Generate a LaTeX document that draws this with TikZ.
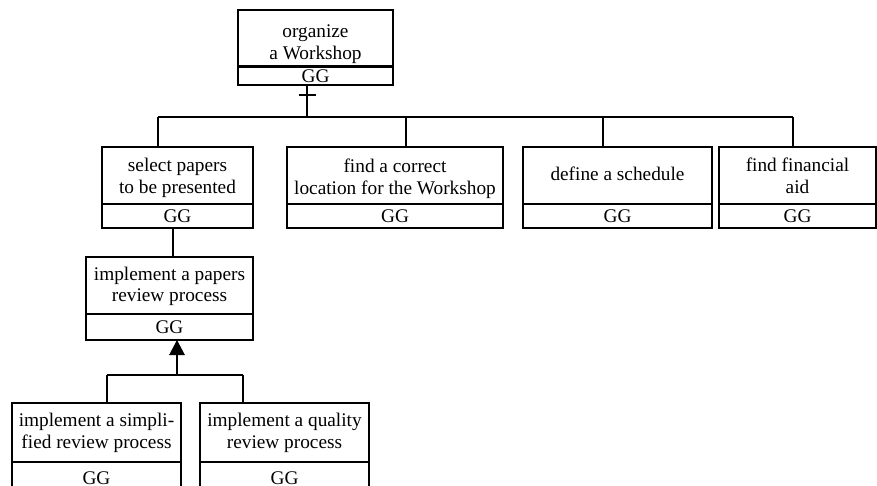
\documentclass[tikz,border=0pt]{standalone}
\usepackage{fontspec}
\setmainfont{Liberation Serif}
\usetikzlibrary{arrows.meta}
% stacked, centred lines whose baseline is the first line's baseline
\newcommand\goallines[1]{\begin{tabular}[t]{@{}c@{}}#1\end{tabular}}
\begin{document}
\begin{tikzpicture}[x=1pt,y=-1pt,line width=1.2pt,
  goalfont/.style={font=\fontsize{19.3}{21.7}\selectfont},
  goalbox/.style={draw,rectangle,anchor=north west,inner sep=0pt,outer sep=0pt},
  upper/.style={goalbox,minimum height=57pt},
  owner/.style={goalbox,goalfont,minimum height=24pt,text height=12.8pt,text depth=0pt},
  goaltext/.style={goalfont,anchor=base,inner sep=0pt,outer sep=0pt},
  link/.style={draw,line width=1.2pt},
  andlink/.style={link,-{Triangle[width=15.5pt,length=15pt]}}]
\useasboundingbox (0,0) rectangle (877,486);
\clip (0,0) rectangle (877,486);

% root goal
\node[upper,minimum width=155pt] (org) at (238,10) {};
\node[goaltext] (orgt) at ([yshift=-27.5pt]org.north) {\goallines{organize\\a Workshop}};
\node[owner,minimum width=155pt,minimum height=18pt] (orgg) at (org.south west) {GG};
\draw[line width=3pt] (org.south west) -- (org.south east);

% first-level subgoals
\node[upper,minimum width=151pt] (sel) at (102,147) {};
\node[goaltext] (selt) at ([yshift=-25pt]sel.north) {\goallines{select papers\\to be presented}};
\node[owner,minimum width=151pt] (selg) at (sel.south west) {GG};

\node[upper,minimum width=216pt] (loc) at (287,147) {};
\node[goaltext] (loct) at ([yshift=-25.5pt]loc.north) {\goallines{find a correct\\location for the Workshop}};
\node[owner,minimum width=216pt] (locg) at (loc.south west) {GG};

\node[upper,minimum width=189pt] (sch) at (523,147) {};
\node[goaltext] (scht) at ([yshift=-34pt]sch.north) {\goallines{define a schedule}};
\node[owner,minimum width=189pt] (schg) at (sch.south west) {GG};

\node[upper,minimum width=157pt] (aid) at (719,147) {};
\node[goaltext] (aidt) at ([yshift=-25pt]aid.north) {\goallines{find financial\\aid}};
\node[owner,minimum width=157pt] (aidg) at (aid.south west) {GG};

% refinement of "select papers"
\node[upper,minimum width=167pt] (rev) at (86,257) {};
\node[goaltext] (revt) at ([yshift=-23pt]rev.north) {\goallines{implement a papers\\review process}};
\node[owner,minimum width=167pt,minimum height=26pt] (revg) at (rev.south west) {GG};

% alternatives
\node[goalbox,minimum width=169pt,minimum height=59pt] (simp) at (12,403) {};
\node[goaltext] (simpt) at ([yshift=-23.5pt]simp.north) {\goallines{implement a simpli-\\fied review process}};
\node[owner,minimum width=169pt,minimum height=32pt] (simpg) at (simp.south west) {GG};

\node[goalbox,minimum width=169pt,minimum height=59pt] (qual) at (200,403) {};
\node[goaltext] (qualt) at ([yshift=-23.5pt]qual.north) {\goallines{implement a quality\\review process}};
\node[owner,minimum width=169pt,minimum height=32pt] (qualg) at (qual.south west) {GG};

% decomposition bus below the root
\coordinate (j0) at (307,117);
\coordinate (tk) at (307,95);
\coordinate (b1) at (158,117);
\coordinate (b2) at (406,117);
\coordinate (b3) at (603,117);
\coordinate (b4) at (793,117);
\draw[link] (orgg.south -| j0) -- (j0);
\draw[link] ([xshift=-8.5pt]tk) -- ([xshift=8.5pt]tk);
\draw[link] (b1) -- (b4);
\draw[link] (b1) -- (sel.north -| b1);
\draw[link] (b2) -- (loc.north -| b2);
\draw[link] (b3) -- (sch.north -| b3);
\draw[link] (b4) -- (aid.north -| b4);

% select papers -> review process
\coordinate (s1) at (173,240);
\draw[link] (selg.south -| s1) -- (rev.north -| s1);

% alternatives bus with arrow
\coordinate (a0) at (177,375);
\coordinate (a1) at (107,375);
\coordinate (a2) at (243,375);
\draw[andlink] (a0) -- (revg.south -| a0);
\draw[link] (a1) -- (a2);
\draw[link] (a1) -- (simp.north -| a1);
\draw[link] (a2) -- (qual.north -| a2);
\end{tikzpicture}
\end{document}
